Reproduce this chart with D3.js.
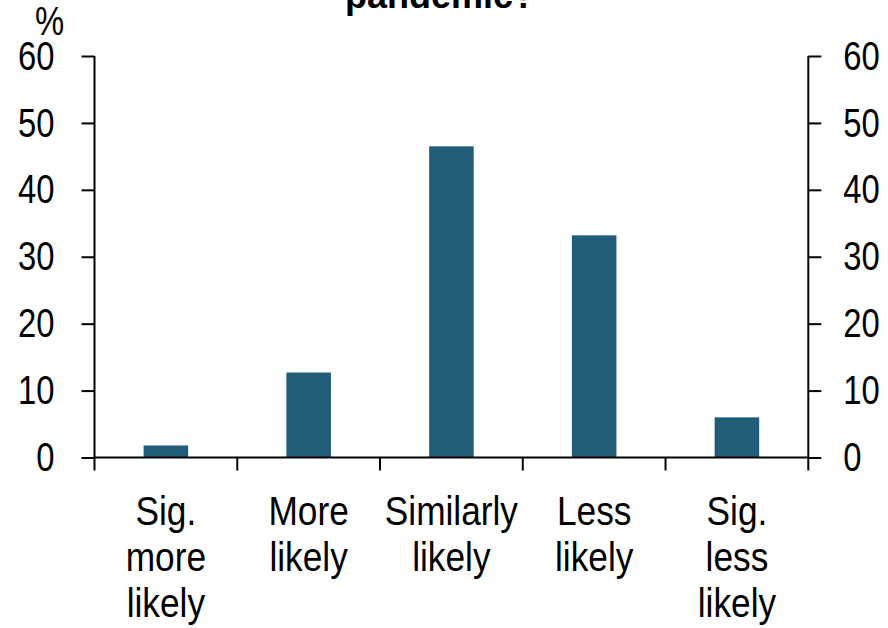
<!DOCTYPE html>
<html>
<head>
<meta charset="utf-8">
<script src="https://cdn.jsdelivr.net/npm/d3@7"></script>
<style>
  html, body { margin: 0; padding: 0; background: #fff; }
  svg { display: block; }
</style>
</head>
<body>
<svg id="chart" width="888" height="628"></svg>
<script>
// Survey responses (% of respondents)
const categories = ["Sig. more likely", "More likely", "Similarly likely", "Less likely", "Sig. less likely"];
const categoryLines = [["Sig.", "more", "likely"], ["More", "likely"], ["Similarly", "likely"], ["Less", "likely"], ["Sig.", "less", "likely"]];
const values = [1.8, 12.7, 46.5, 33.2, 6.0];
const yTicks = [0, 10, 20, 30, 40, 50, 60];
const titleText = "pandemic?";
const unitLabel = "%";

const svg = d3.select("#chart");
const plotLeft = 94.5, plotRight = 808.3, plotTop = 56, plotBottom = 457.5;
const barColor = "#215d78";
const labelFont = "Liberation Sans, Arial, sans-serif";
const labelSize = 41;
const tickLen = 13;

// Condense a text element horizontally around its anchor
function condense(sel, factor) {
  sel.each(function () {
    const len = this.getComputedTextLength();
    d3.select(this).attr("textLength", len * factor).attr("lengthAdjust", "spacingAndGlyphs");
  });
}

const x = d3.scaleBand()
  .domain(categories)
  .range([plotLeft, plotRight])
  .paddingInner(0.688)
  .paddingOuter(0.344);

const y = d3.scaleLinear().domain([0, 60]).range([plotBottom, plotTop]);

// Title (upper lines lie above the visible area)
svg.append("text")
  .attr("x", 440).attr("y", 8)
  .attr("text-anchor", "middle")
  .attr("font-family", labelFont)
  .attr("font-weight", "bold")
  .attr("font-size", 36)
  .attr("fill", "#000")
  .text(titleText);

// Bars
svg.append("g").selectAll("rect")
  .data(values)
  .join("rect")
  .attr("x", (d, i) => x(categories[i]))
  .attr("width", x.bandwidth())
  .attr("y", d => y(d))
  .attr("height", d => y(0) - y(d))
  .attr("fill", barColor);

// Left and right value axes
const leftAxis = svg.append("g")
  .attr("transform", `translate(${plotLeft},0)`)
  .call(d3.axisLeft(y).tickValues(yTicks).tickSize(tickLen).tickPadding(27).tickFormat(d3.format("d")));

const rightAxis = svg.append("g")
  .attr("transform", `translate(${plotRight},0)`)
  .call(d3.axisRight(y).tickValues(yTicks).tickSize(tickLen).tickPadding(22).tickFormat(d3.format("d")));

[leftAxis, rightAxis].forEach(g => {
  g.attr("font-family", labelFont).attr("font-size", labelSize);
  g.select(".domain").remove();
  g.selectAll(".tick line").attr("stroke", "#000").attr("stroke-width", 2);
  g.selectAll(".tick text").attr("fill", "#000").call(condense, 0.8);
});

// Vertical axis lines, extended down past the baseline
[plotLeft, plotRight].forEach(px => {
  svg.append("line").attr("x1", px).attr("x2", px).attr("y1", y(60)).attr("y2", plotBottom + tickLen)
    .attr("stroke", "#000").attr("stroke-width", 2);
});

// Category axis baseline
svg.append("line").attr("x1", plotLeft).attr("x2", plotRight).attr("y1", y(0)).attr("y2", y(0))
  .attr("stroke", "#000").attr("stroke-width", 2);

// Category separators between bands
const gap = (x.step() - x.bandwidth()) / 2;
svg.append("g").selectAll("line")
  .data(categories.slice(1))
  .join("line")
  .attr("x1", d => x(d) - gap)
  .attr("x2", d => x(d) - gap)
  .attr("y1", plotBottom).attr("y2", plotBottom + tickLen)
  .attr("stroke", "#000").attr("stroke-width", 2);

// Category labels, one text per line
const catG = svg.append("g")
  .attr("font-family", labelFont)
  .attr("font-size", labelSize)
  .attr("fill", "#000")
  .attr("text-anchor", "middle");
categories.forEach((c, i) => {
  const cx = x(c) + x.bandwidth() / 2;
  categoryLines[i].forEach((line, j) => {
    catG.append("text")
      .attr("x", cx)
      .attr("y", 525 + j * 46)
      .text(line)
      .call(condense, 0.86);
  });
});

// Unit label
svg.append("text")
  .attr("x", 35).attr("y", 35)
  .attr("font-family", labelFont)
  .attr("font-size", labelSize)
  .attr("fill", "#000")
  .text(unitLabel)
  .call(condense, 0.8);
</script>
</body>
</html>
